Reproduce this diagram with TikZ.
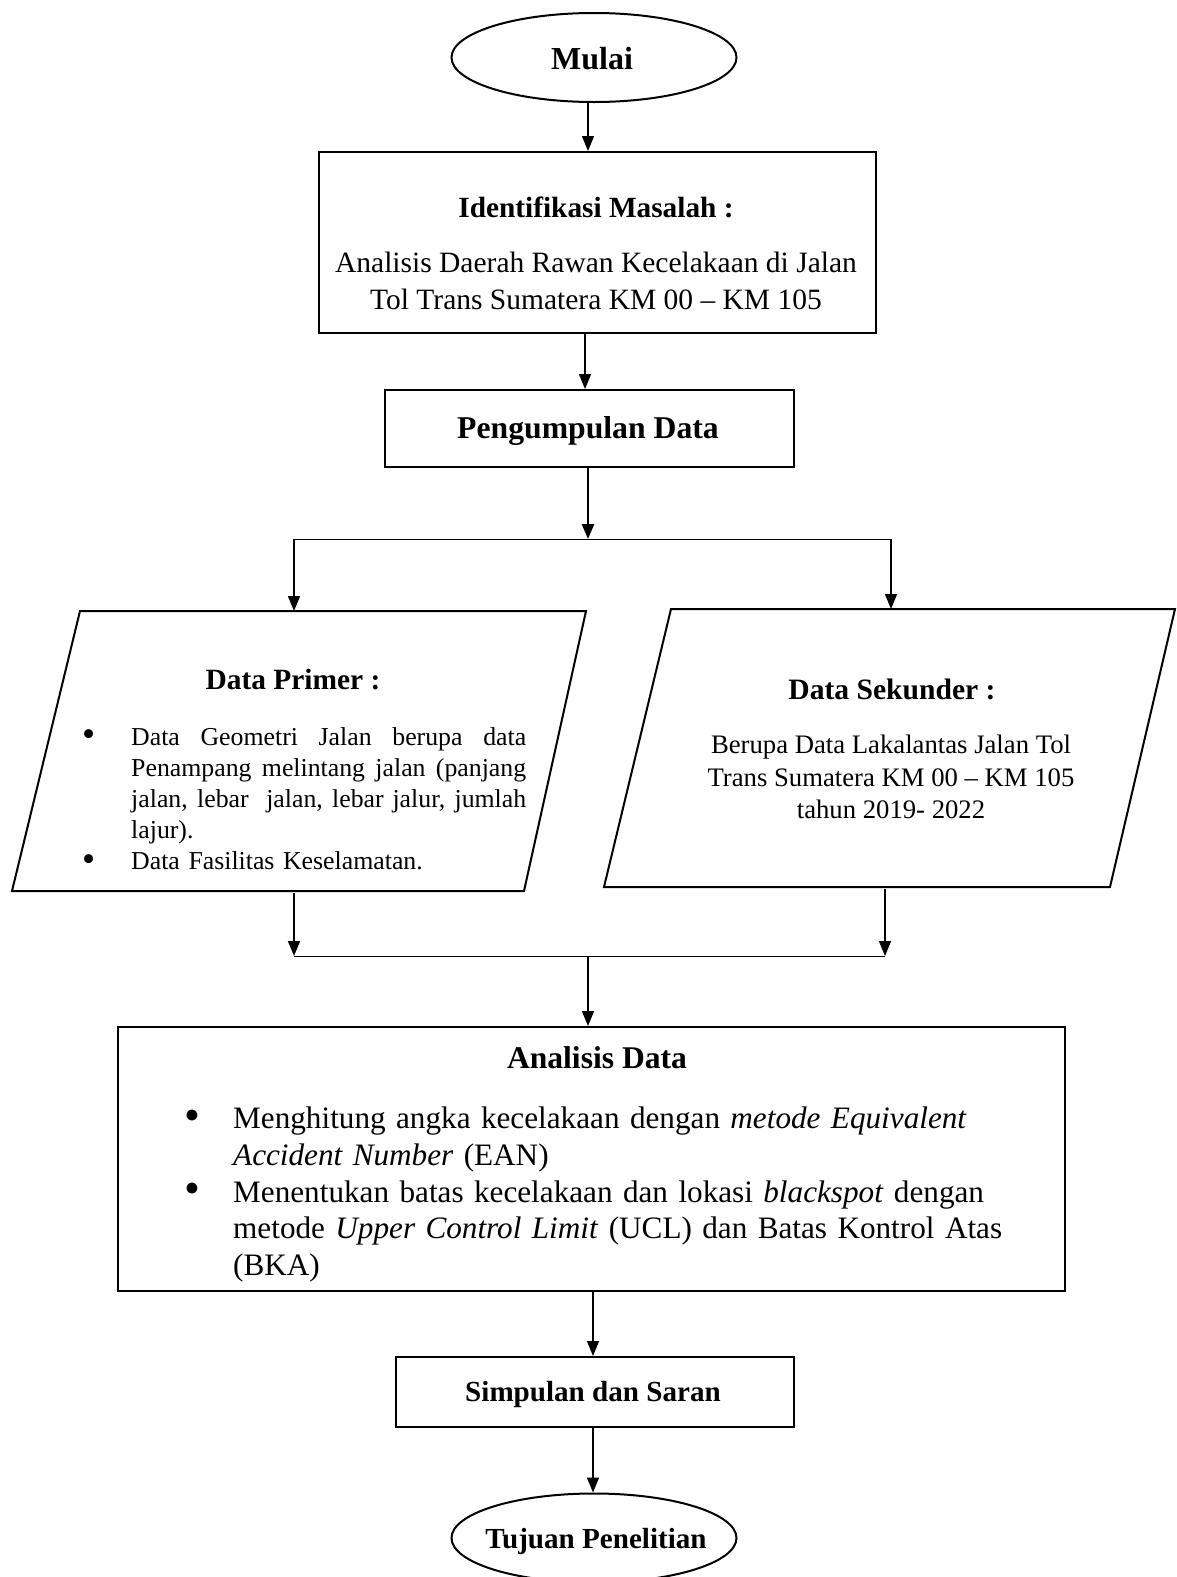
\documentclass[tikz,border=0pt]{standalone}
\usepackage{fontspec}
\setmainfont{Liberation Serif}
\usetikzlibrary{arrows.meta,shapes.geometric}
\newcommand{\bigbul}{\raisebox{-0.05em}{\scalebox{1.45}{\textbullet}}}
\newcommand{\bulline}[3]{\noindent\makebox[#1][l]{\bigbul}#3\par}
\newcommand{\contline}[2]{\noindent\hspace*{#1}#2\par}
\newcommand{\jline}[2]{\makebox[#1][s]{\spaceskip=0pt\relax\xspaceskip=0pt\relax #2}}
\begin{document}
\begin{tikzpicture}[x=1pt,y=-1pt,
  arr/.style={-{Triangle[length=15pt,width=12pt]},line width=1.5pt},
  boxline/.style={draw,line width=2pt},
  oval/.style={ellipse,draw,line width=2pt,minimum width=285pt,minimum height=89pt,inner sep=0pt}]
\useasboundingbox (0,0) rectangle (1176,1577);
% start
\node[oval] (mulai) at (594,57.5) {};
\node[font=\fontsize{32}{38}\selectfont\bfseries] (mulait) at (592,59) {Mulai};
% identifikasi
\node[boxline,minimum width=557pt,minimum height=181pt,anchor=north west,inner sep=0pt] (ident) at (318,151) {};
\node[font=\fontsize{29.3}{34}\selectfont\bfseries] (identt) at (596,207) {Identifikasi Masalah :};
\node[align=center,font=\fontsize{29.5}{37}\selectfont] (identx) at (596,281) {Analisis Daerah Rawan Kecelakaan di Jalan\\Tol Trans Sumatera KM 00 -- KM 105};
% pengumpulan
\node[boxline,minimum width=409pt,minimum height=77pt,anchor=north west,inner sep=0pt] (peng) at (384,389) {};
\node[font=\fontsize{31.7}{36}\selectfont\bfseries] (pengt) at (588,431) {Pengumpulan Data};
% split
\coordinate (s0) at (588,539);
\coordinate (sl) at (294,539);
\coordinate (sr) at (891,539);
% data primer
\coordinate (p1) at (80,611); \coordinate (p2) at (586,611);
\coordinate (p3) at (524,891); \coordinate (p4) at (12,891);
\draw[line width=2pt,line join=miter] (p1) -- (p2) -- (p3) -- (p4) -- cycle;
\node[font=\fontsize{29.4}{34}\selectfont\bfseries] (primt) at (293,679) {Data Primer :};
\node[anchor=north west,text width=460pt,inner sep=0pt,align=left,font=\fontsize{25.8}{31.2}\selectfont] (primx) at (82,727) {%
\bulline{49pt}{}{\jline{395pt}{Data Geometri Jalan berupa data}}
\contline{49pt}{\jline{395pt}{Penampang melintang jalan (panjang}}
\contline{49pt}{\jline{395pt}{jalan, lebar\ \ jalan, lebar jalur, jumlah}}
\contline{49pt}{lajur).}
\bulline{49pt}{}{Data Fasilitas Keselamatan.}};
% data sekunder
\coordinate (q1) at (671,609); \coordinate (q2) at (1175,609);
\coordinate (q3) at (1110,887); \coordinate (q4) at (604,887);
\draw[line width=2pt,line join=miter] (q1) -- (q2) -- (q3) -- (q4) -- cycle;
\node[font=\fontsize{29.6}{34}\selectfont\bfseries] (sekt) at (892,689) {Data Sekunder :};
\node[align=center,font=\fontsize{26.7}{32.2}\selectfont] (sekx) at (891,777) {Berupa Data Lakalantas Jalan Tol\\Trans Sumatera KM 00 -- KM 105\\tahun 2019- 2022};
% merge
\coordinate (ml) at (294,956);
\coordinate (mr) at (885,956);
\coordinate (m0) at (588,956);
% analisis
\node[boxline,minimum width=947pt,minimum height=264pt,anchor=north west,inner sep=0pt] (anal) at (117,1026) {};
\node[font=\fontsize{31.6}{36}\selectfont\bfseries] (analt) at (597,1058) {Analisis Data};
\node[anchor=north west,text width=880pt,inner sep=0pt,align=left,font=\fontsize{31.2}{36.6}\selectfont] (analx) at (184,1107) {%
\bulline{49pt}{}{Menghitung angka kecelakaan dengan \textit{metode Equivalent}}
\contline{49pt}{\textit{Accident Number} (EAN)}
\bulline{49pt}{}{Menentukan batas kecelakaan dan lokasi \textit{blackspot} dengan}
\contline{49pt}{metode \textit{Upper Control Limit} (UCL) dan Batas Kontrol Atas}
\contline{49pt}{(BKA)}};
% simpulan
\node[boxline,minimum width=398pt,minimum height=70pt,anchor=north west,inner sep=0pt] (simp) at (395,1356) {};
\node[font=\fontsize{29.1}{34}\selectfont\bfseries] (simpt) at (593,1394) {Simpulan dan Saran};
% end
\node[oval] (tuj) at (594,1538) {};
\node[font=\fontsize{29.1}{34}\selectfont\bfseries] (tujt) at (596,1541) {Tujuan Penelitian};
% connectors
\draw[arr] (mulai.south -| 588,0) -- (ident.north -| 588,0);
\draw[arr] (ident.south -| 585,0) -- (peng.north -| 585,0);
\draw[arr,line width=2.6pt] (peng.south -| s0) -- (s0);
\draw[line width=1pt] (sl) -- (sr);
\draw[arr] (sl) -- (p1 -| sl);
\draw[arr] (sr) -- (q1 -| sr);
\draw[arr] (p4 -| ml) ++(0,2) -- (ml);
\draw[arr] (q4 -| mr) ++(0,2) -- (mr);
\draw[line width=1pt] (ml) -- (mr);
\draw[arr] (m0) -- (anal.north -| m0);
\draw[arr] (anal.south -| 593,0) -- (simp.north -| 593,0);
\draw[arr] (simp.south -| 593,0) -- (tuj.north -| 593,0);
\end{tikzpicture}
\end{document}
